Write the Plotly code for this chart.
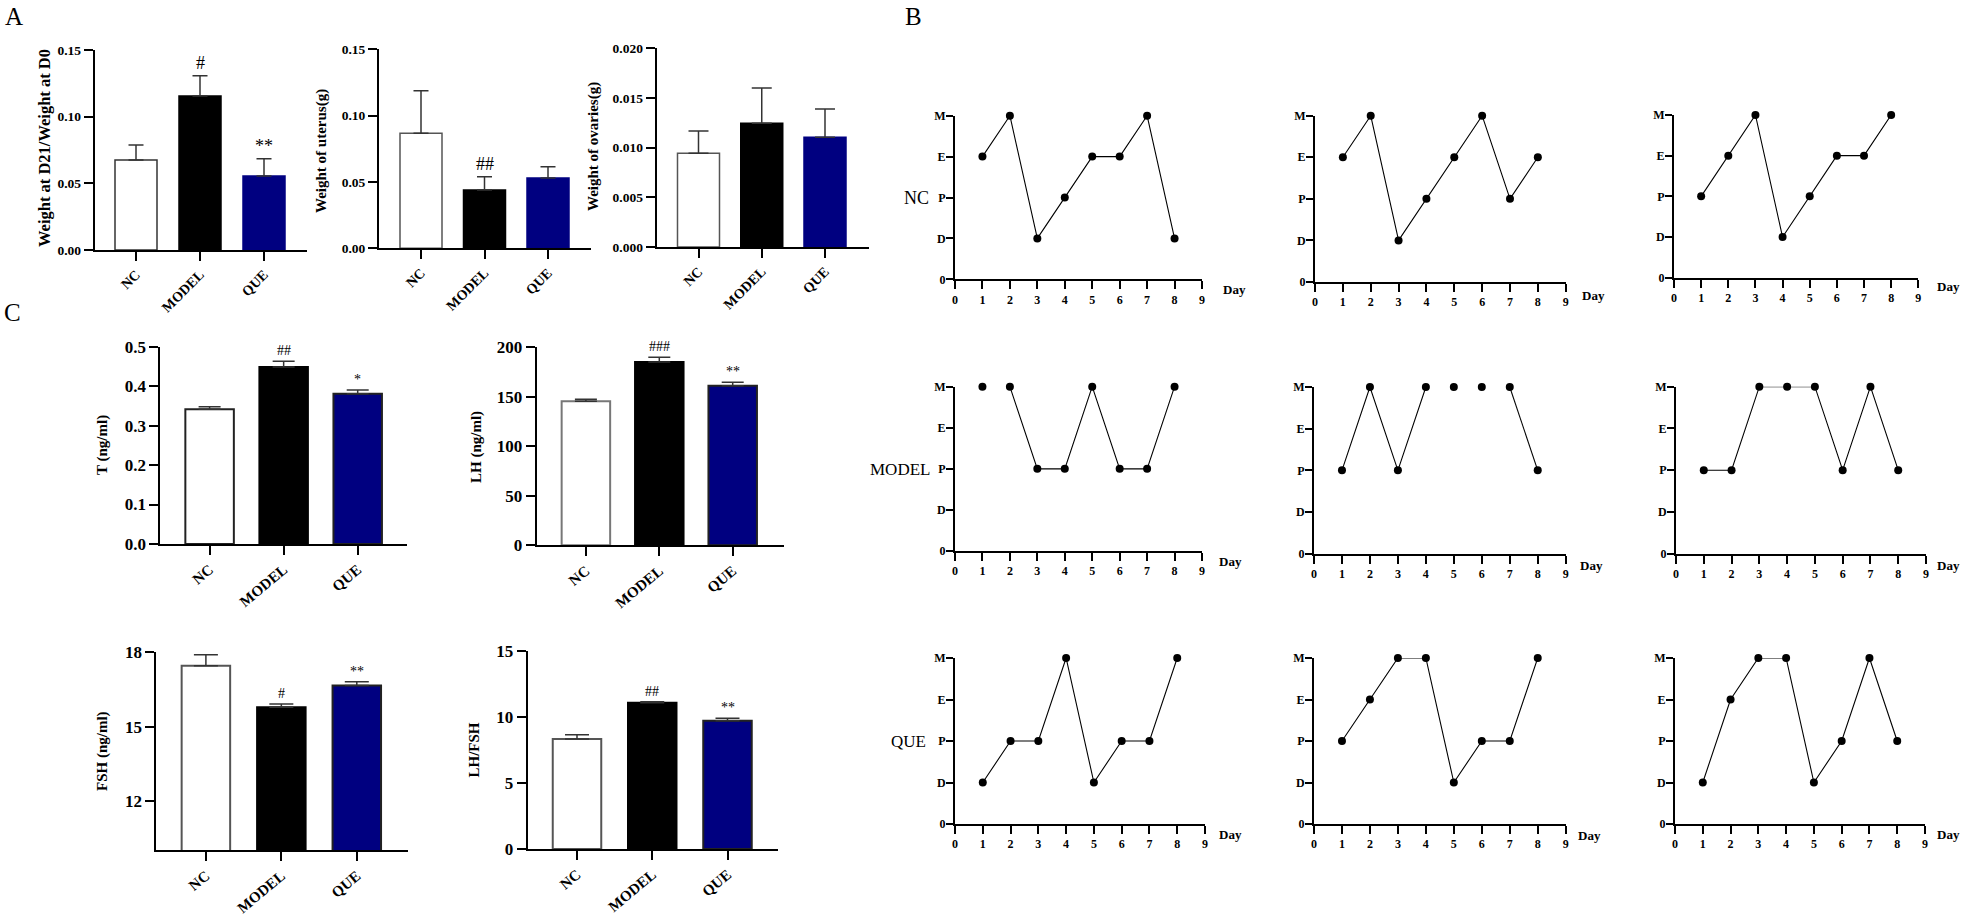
import plotly.graph_objects as go

W = 1964
H = 915
SERIF = "Liberation Serif"

groups = ["NC", "MODEL", "QUE"]
bar_fill = ["#ffffff", "#000000", "#000080"]

# Panel A and C: means, top of the error bar, significance marks
gain_mean = [0.0675, 0.1155, 0.0555]
gain_top = [0.0788, 0.1307, 0.0685]
gain_marks = ["", "#", "**"]
uterus_mean = [0.0867, 0.044, 0.053]
uterus_top = [0.1188, 0.054, 0.0615]
uterus_marks = ["", "##", ""]
ovary_mean = [0.00943, 0.01245, 0.01104]
ovary_top = [0.01168, 0.016, 0.0139]
ovary_marks = ["", "", ""]
t_mean = [0.3413, 0.4486, 0.381]
t_top = [0.348, 0.463, 0.39]
t_marks = ["", "##", "*"]
lh_mean = [145.4, 185.2, 161.2]
lh_top = [147.5, 189.9, 164.6]
lh_marks = ["", "###", "**"]
fsh_mean = [17.46, 15.78, 16.66]
fsh_top = [17.9, 15.91, 16.81]
fsh_marks = ["", "#", "**"]
ratio_mean = [8.33, 11.08, 9.72]
ratio_top = [8.66, 11.16, 9.9]
ratio_marks = ["", "##", "**"]

# Panel B: stage per day, one list per animal
days = [1, 2, 3, 4, 5, 6, 7, 8]
stage_ticks = ["0", "D", "P", "E", "M"]
day_ticks = [0, 1, 2, 3, 4, 5, 6, 7, 8, 9]
nc_1 = ["E", "M", "D", "P", "E", "E", "M", "D"]
nc_2 = ["E", "M", "D", "P", "E", "M", "P", "E"]
nc_3 = ["P", "E", "M", "D", "P", "E", "E", "M"]
model_1 = ["M", "M", "P", "P", "M", "P", "P", "M"]
model_2 = ["P", "M", "P", "M", "M", "M", "M", "P"]
model_3 = ["P", "P", "M", "M", "M", "P", "M", "P"]
que_1 = ["D", "P", "P", "M", "D", "P", "P", "M"]
que_2 = ["P", "E", "M", "M", "D", "P", "P", "M"]
que_3 = ["D", "E", "M", "M", "D", "P", "M", "P"]
# days after which the original line is not drawn
model_1_breaks = [1]
model_2_breaks = [4, 5, 6]

fig = go.Figure()
notes = []
layout_axes = {}
axis_no = 0


def px_x(x):
    return x / W


def px_y(y):
    return 1 - y / H


def note(x, y, text, size, bold=False, angle=0):
    notes.append(dict(
        x=px_x(x), y=px_y(y), xref="paper", yref="paper", text=f"<b>{text}</b>" if bold else text,
        showarrow=False, textangle=angle, xanchor="center", yanchor="middle",
        font=dict(family=SERIF, size=size, color="black"),
    ))


def next_axes(x0, x1, y_top, y_bottom):
    """Make a new axis pair that sits on the given pixel box."""
    global axis_no
    axis_no += 1
    suffix = "" if axis_no == 1 else str(axis_no)
    return suffix, dict(domain=[px_x(x0), px_x(x1)], anchor=f"y{suffix}", automargin=False), \
        dict(domain=[px_y(y_bottom), px_y(y_top)], anchor=f"x{suffix}", automargin=False)


def bar_chart(mean, top, marks, box, ticks, y_range, y_ticks, y_text, font, outline, mark_size, cap, edge=1.5):
    x0, x1, y_top, y_bottom = box
    suffix, xa, ya = next_axes(x0, x1, y_top, y_bottom)
    step = (ticks[2] - ticks[0]) / 2
    xa.update(
        type="category", range=[(x0 - ticks[0]) / step, (x1 - ticks[0]) / step],
        showline=True, linewidth=2, linecolor="black", ticks="outside", ticklen=9, tickwidth=2,
        tickcolor="black", tickangle=font[3], showgrid=False, zeroline=False,
        tickfont=dict(family=f"{SERIF}", size=font[1], color="black", weight="bold"),
    )
    ya.update(
        range=y_range, tickvals=y_ticks, ticktext=y_text, showline=True, linewidth=2, linecolor="black",
        ticks="outside", ticklen=9, tickwidth=2, tickcolor="black", showgrid=False, zeroline=False,
        tickfont=dict(family=SERIF, size=font[0], color="black", weight="bold"),
    )
    layout_axes[f"xaxis{suffix}"] = xa
    layout_axes[f"yaxis{suffix}"] = ya
    fig.add_trace(go.Bar(
        x=groups, y=mean, width=font[2] / step, xaxis=f"x{suffix}", yaxis=f"y{suffix}",
        marker=dict(color=bar_fill, line=dict(color=outline, width=edge)),
        error_y=dict(type="data", symmetric=False, array=[t - m for t, m in zip(top, mean)],
                     arrayminus=[0, 0, 0], color="#333333", thickness=1.5, width=cap),
        showlegend=False,
    ))
    for name, value, mark in zip(groups, top, marks):
        if mark:
            notes.append(dict(
                x=name, y=value, xref=f"x{suffix}", yref=f"y{suffix}", text=mark, showarrow=False,
                yanchor="bottom", yshift=1, font=dict(family=SERIF, size=mark_size, color="black"),
            ))


def cycle_chart(stages, breaks, box, day_pos):
    x0, x1, y_top, y_bottom = box
    suffix, xa, ya = next_axes(x0, x1, y_top, y_bottom)
    xa.update(
        range=[0, 9], tickvals=day_ticks, showline=True, linewidth=2, linecolor="black", ticks="outside",
        ticklen=8, tickwidth=1.5, tickcolor="black", showgrid=False, zeroline=False,
        tickfont=dict(family=SERIF, size=12, color="black", weight="bold"),
    )
    ya.update(
        range=[0, 4], tickvals=[0, 1, 2, 3, 4], ticktext=stage_ticks, showline=True, linewidth=2,
        linecolor="black", ticks="outside", ticklen=7, tickwidth=1.5, tickcolor="black", showgrid=False,
        zeroline=False, ticklabelstandoff=-2,
        tickfont=dict(family=SERIF, size=12, color="black", weight="bold"),
    )
    layout_axes[f"xaxis{suffix}"] = xa
    layout_axes[f"yaxis{suffix}"] = ya
    levels = [stage_ticks.index(s) for s in stages]
    line_x, line_y = [], []
    for d, v in zip(days, levels):
        line_x.append(d)
        line_y.append(v)
        if d in breaks:
            line_x.append(None)
            line_y.append(None)
    fig.add_trace(go.Scatter(
        x=line_x, y=line_y, mode="lines", line=dict(color="black", width=1.1),
        xaxis=f"x{suffix}", yaxis=f"y{suffix}", showlegend=False,
    ))
    fig.add_trace(go.Scatter(
        x=days, y=levels, mode="markers", marker=dict(color="black", size=8),
        xaxis=f"x{suffix}", yaxis=f"y{suffix}", showlegend=False, cliponaxis=False,
    ))
    note(day_pos[0], day_pos[1], "Day", 13, bold=True)


# panel A
font_a = (13.5, 14, 42, -45)
bar_chart(gain_mean, gain_top, gain_marks, (94.7, 307, 50, 250), [136, 200, 264], [0, 0.15],
          [0, 0.05, 0.1, 0.15], ["0.00", "0.05", "0.10", "0.15"], font_a, ["#333333", "#000000", "#000080"], 18, 7.5)
bar_chart(uterus_mean, uterus_top, uterus_marks, (379, 591, 49.3, 248.3), [421, 485, 548], [0, 0.15],
          [0, 0.05, 0.1, 0.15], ["0.00", "0.05", "0.10", "0.15"], font_a, ["#555555", "#000000", "#000080"], 18, 7.5)
bar_chart(ovary_mean, ovary_top, ovary_marks, (656.6, 868.6, 48.3, 247), [698.5, 761.6, 825], [0, 0.02],
          [0, 0.005, 0.01, 0.015, 0.02], ["0.000", "0.005", "0.010", "0.015", "0.020"], font_a,
          ["#555555", "#000000", "#000080"], 18, 10)

# panel C
font_c = (17, 15, 48.5, -40)
bar_chart(t_mean, t_top, t_marks, (160.4, 407.4, 346.7, 544), [209.6, 283.3, 357.7], [0, 0.5],
          [0, 0.1, 0.2, 0.3, 0.4, 0.5], ["0.0", "0.1", "0.2", "0.3", "0.4", "0.5"], font_c,
          ["#222222", "#000000", "#222222"], 14, 11, edge=2)
bar_chart(lh_mean, lh_top, lh_marks, (536.7, 783.7, 347.3, 545.3), [585.9, 659, 732.7], [0, 200],
          [0, 50, 100, 150, 200], ["0", "50", "100", "150", "200"], font_c,
          ["#777777", "#000000", "#222222"], 14, 11, edge=2)
bar_chart(fsh_mean, fsh_top, fsh_marks, (156.4, 407.5, 652.3, 850.3), [205.9, 281.3, 356.8], [10, 18],
          [12, 15, 18], ["12", "15", "18"], font_c, ["#555555", "#000000", "#222222"], 14, 12, edge=2)
bar_chart(ratio_mean, ratio_top, ratio_marks, (527.6, 778.3, 651, 849), [577, 652, 727.5], [0, 15],
          [0, 5, 10, 15], ["0", "5", "10", "15"], font_c, ["#555555", "#000000", "#222222"], 14, 12, edge=2)

# panel B
cycle_chart(nc_1, [], (955, 1202, 115.7, 279.3), (1234, 289))
cycle_chart(nc_2, [], (1315, 1565.7, 115.7, 282), (1593, 295))
cycle_chart(nc_3, [], (1674, 1918.3, 115, 277.7), (1948, 287))
cycle_chart(model_1, model_1_breaks, (955, 1202, 386.7, 551), (1230, 561.7))
cycle_chart(model_2, model_2_breaks, (1314, 1565.7, 387, 553.7), (1591.5, 565.7))
cycle_chart(model_3, [], (1676, 1926, 386.7, 553.7), (1948, 565))
cycle_chart(que_1, [], (955, 1205, 658, 824), (1230, 834))
cycle_chart(que_2, [], (1314, 1565.7, 658, 824), (1589.4, 835.7))
cycle_chart(que_3, [], (1675, 1925, 658, 824), (1948, 834))

# y titles and panel letters
note(44, 148, "Weight at D21/Weight at D0", 16.5, bold=True, angle=-90)
note(322, 151, "Weight of uterus(g)", 15, bold=True, angle=-90)
note(593, 147, "Weight of ovaries(g)", 15, bold=True, angle=-90)
note(102, 445, "T (ng/ml)", 15, bold=True, angle=-90)
note(477, 447, "LH (ng/ml)", 15, bold=True, angle=-90)
note(102, 751, "FSH (ng/ml)", 15, bold=True, angle=-90)
note(473.5, 750, "LH/FSH", 15, bold=True, angle=-90)
note(14, 17, "A", 25)
note(913, 17, "B", 25)
note(12, 312, "C", 25)
note(916, 198, "NC", 18)
note(900, 469, "MODEL", 17)
note(908, 741, "QUE", 17)

fig.update_layout(
    width=W, height=H, margin=dict(l=0, r=0, t=0, b=0), paper_bgcolor="white", plot_bgcolor="white",
    showlegend=False, annotations=notes, **layout_axes,
)
fig.write_html("out.html", post_script="document.body.style.margin='0';",
               config=dict(displayModeBar=False))
